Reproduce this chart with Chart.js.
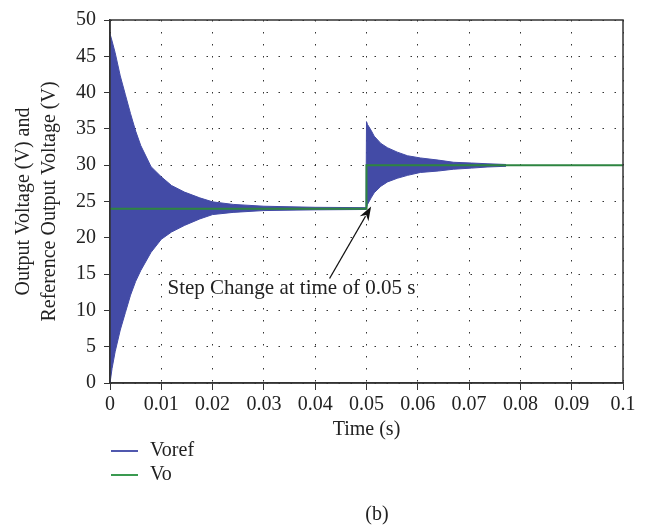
<!DOCTYPE html>
<html>
<head>
<meta charset="utf-8">
<script src="https://cdn.jsdelivr.net/npm/chart.js@4"></script>
<style>
  html, body { margin: 0; padding: 0; background: #fff; }
  #wrap { position: relative; width: 645px; height: 528px; font-family: "Liberation Serif", serif; color: #222; }
  #chart { position: absolute; left: 0; top: 0; }
  .leg { position: absolute; left: 111px; font-size: 20px; line-height: 20px; }
  .leg span.sw { display: inline-block; width: 27px; height: 0; border-top: 2px solid; vertical-align: middle; margin-right: 12px; }
  #cap { position: absolute; top: 502px; left: 0; width: 754px; text-align: center; font-size: 20px; }
</style>
</head>
<body>
<div id="wrap">
  <canvas id="chart" width="645" height="528"></canvas>
  <div class="leg" style="top:439px"><span class="sw" style="border-color:#5058ae"></span>Voref</div>
  <div class="leg" style="top:463px"><span class="sw" style="border-color:#3a9a50"></span>Vo</div>
  <div id="cap">(b)</div>
</div>
<script>
// Voref envelope (fast oscillation shown as its upper/lower bounds)
const envTime = [0, 0.0004, 0.001, 0.002, 0.003, 0.004, 0.005, 0.006, 0.008, 0.01, 0.012, 0.0145, 0.0175, 0.02, 0.024, 0.03, 0.04, 0.0499,
                 0.05, 0.0502, 0.0509, 0.0515, 0.0528, 0.0541, 0.056, 0.058, 0.0605, 0.064, 0.067, 0.0705, 0.0735, 0.0772];
const vorefUpper = [48.1, 47.1, 45.5, 42.3, 39.7, 37.1, 34.7, 32.7, 29.8, 28.4, 27.2, 26.3, 25.5, 24.95, 24.6, 24.35, 24.2, 24.15,
                    36.0, 35.6, 34.8, 34.0, 33.0, 32.4, 31.8, 31.3, 31.0, 30.7, 30.4, 30.3, 30.2, 30.1];
const vorefLower = [0, 2.0, 4.3, 7.3, 9.7, 12.1, 14.0, 15.5, 18.0, 19.8, 20.8, 21.7, 22.6, 23.2, 23.5, 23.75, 23.85, 23.9,
                    24.1, 24.6, 25.5, 26.2, 27.1, 27.7, 28.2, 28.6, 29.0, 29.2, 29.45, 29.6, 29.75, 29.85];

// Vo step
const voTime = [0, 0.05, 0.05, 0.1];
const vo = [24, 24, 30, 30];

const xTicks = [0, 0.01, 0.02, 0.03, 0.04, 0.05, 0.06, 0.07, 0.08, 0.09, 0.1];
const yTicks = [0, 5, 10, 15, 20, 25, 30, 35, 40, 45, 50];

const annotation = { text: 'Step Change at time of 0.05 s', textAt: [0.0112, 13.0], tail: [0.0428, 14.4], tip: [0.0509, 24.3] };

const BLUE = '#434ba6';
const GREEN = '#2e8541';
const FONT = '"Liberation Serif", serif';

const pts = (xs, ys) => xs.map((x, i) => ({ x: x, y: ys[i] }));

const frame = {
    id: 'frame',
    afterDraw(chart) {
        const { ctx, chartArea: a } = chart;
        ctx.save();
        ctx.setLineDash([]);
        ctx.strokeStyle = '#333';
        ctx.lineWidth = 1.5;
        ctx.strokeRect(a.left, a.top, a.right - a.left, a.bottom - a.top);
        ctx.restore();
    }
};

const arrowNote = {
    id: 'arrowNote',
    afterDatasetsDraw(chart) {
        const { ctx, scales: { x, y } } = chart;
        const tx = x.getPixelForValue(annotation.tail[0]), ty = y.getPixelForValue(annotation.tail[1]);
        const hx = x.getPixelForValue(annotation.tip[0]), hy = y.getPixelForValue(annotation.tip[1]);
        const ang = Math.atan2(hy - ty, hx - tx);
        const len = 14, half = 5;
        ctx.save();
        ctx.strokeStyle = '#111';
        ctx.fillStyle = '#111';
        ctx.lineWidth = 1.3;
        ctx.beginPath();
        ctx.moveTo(tx, ty);
        ctx.lineTo(hx - Math.cos(ang) * len * 0.8, hy - Math.sin(ang) * len * 0.8);
        ctx.stroke();
        ctx.beginPath();
        ctx.moveTo(hx, hy);
        ctx.lineTo(hx - Math.cos(ang) * len - Math.sin(ang) * half, hy - Math.sin(ang) * len + Math.cos(ang) * half);
        ctx.lineTo(hx - Math.cos(ang) * len * 0.7, hy - Math.sin(ang) * len * 0.7);
        ctx.lineTo(hx - Math.cos(ang) * len + Math.sin(ang) * half, hy - Math.sin(ang) * len - Math.cos(ang) * half);
        ctx.closePath();
        ctx.fill();
        ctx.font = '21px ' + FONT;
        ctx.fillStyle = '#222';
        ctx.textBaseline = 'middle';
        ctx.fillText(annotation.text, x.getPixelForValue(annotation.textAt[0]), y.getPixelForValue(annotation.textAt[1]));
        ctx.restore();
    }
};

const gridOpts = { color: '#333', lineWidth: 1, tickColor: '#333', tickBorderDash: [] };

new Chart(document.getElementById('chart'), {
    type: 'line',
    data: {
        datasets: [
            { label: 'Vo', data: pts(voTime, vo), borderColor: GREEN, borderWidth: 2, pointRadius: 0, fill: false, order: 0 },
            { label: 'Voref', data: pts(envTime, vorefUpper), borderColor: BLUE, backgroundColor: BLUE, borderWidth: 1, pointRadius: 0, fill: '+1', order: 1 },
            { label: 'Voref low', data: pts(envTime, vorefLower), borderColor: BLUE, borderWidth: 1, pointRadius: 0, fill: false, order: 1 }
        ]
    },
    options: {
        responsive: false,
        animation: false,
        layout: { padding: { left: 0, top: 10, right: 22, bottom: 85 } },
        plugins: { legend: { display: false }, tooltip: { enabled: false } },
        scales: {
            x: {
                type: 'linear', min: 0, max: 0.1,
                afterBuildTicks: s => { s.ticks = xTicks.map(v => ({ value: v })); },
                afterFit: s => { s.height = 60; },
                ticks: { color: '#222', font: { family: FONT, size: 20 }, padding: 3, maxRotation: 0,
                         callback: v => String(Number(v.toFixed(2))) },
                grid: Object.assign({ tickLength: 7 }, gridOpts),
                border: { display: true, color: '#333', width: 1.5, dash: [1.5, 10.5] },
                title: { display: true, text: 'Time (s)', color: '#222', font: { family: FONT, size: 20 }, padding: { top: 0, bottom: 1 } }
            },
            y: {
                min: 0, max: 50,
                afterBuildTicks: s => { s.ticks = yTicks.map(v => ({ value: v })); },
                afterFit: s => { s.width = 110; },
                ticks: { color: '#222', font: { family: FONT, size: 20 }, padding: 8 },
                grid: Object.assign({ tickLength: 6 }, gridOpts),
                border: { display: true, color: '#333', width: 1.5, dash: [1.5, 10.5] },
                title: { display: true, text: ['Output Voltage (V) and', 'Reference Output Voltage (V)'], color: '#222',
                         font: { family: FONT, size: 20, lineHeight: 1.3 }, padding: { top: 11, bottom: 0 } }
            }
        }
    },
    plugins: [frame, arrowNote]
});
</script>
</body>
</html>
